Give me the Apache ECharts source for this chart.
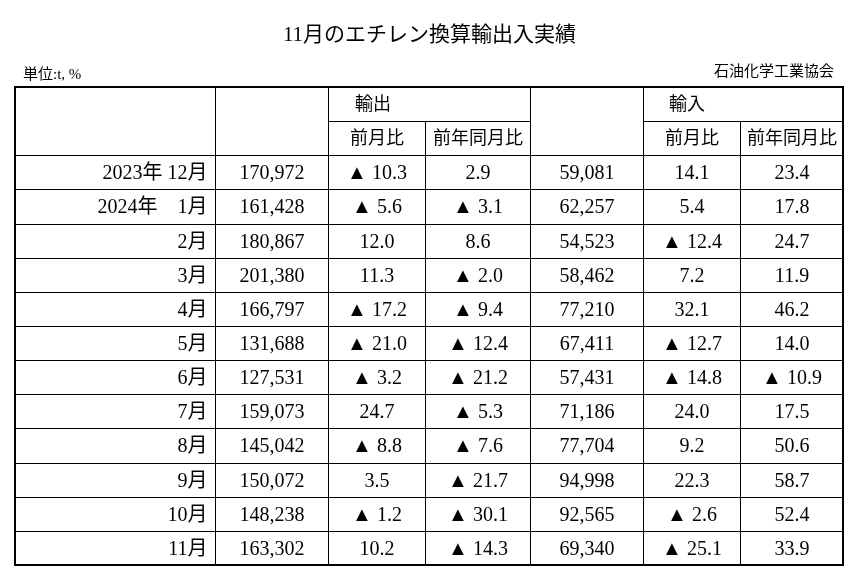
<!DOCTYPE html>
<html><head><meta charset="utf-8">
<script src="https://cdn.jsdelivr.net/npm/echarts@6/dist/echarts.min.js"></script>
<style>html,body{margin:0;background:#fff}#main{width:859px;height:579px}</style>
</head><body><div id="main"></div>
<script>
var rowLabels = ['2023年 12月', '2024年　1月', '2月', '3月', '4月', '5月', '6月', '7月', '8月', '9月', '10月', '11月'];
var exportQty = ['170,972', '161,428', '180,867', '201,380', '166,797', '131,688', '127,531', '159,073', '145,042', '150,072', '148,238', '163,302'];
var exportMoM = ['▲ 10.3', '▲ 5.6', '12.0', '11.3', '▲ 17.2', '▲ 21.0', '▲ 3.2', '24.7', '▲ 8.8', '3.5', '▲ 1.2', '10.2'];
var exportYoY = ['2.9', '▲ 3.1', '8.6', '▲ 2.0', '▲ 9.4', '▲ 12.4', '▲ 21.2', '▲ 5.3', '▲ 7.6', '▲ 21.7', '▲ 30.1', '▲ 14.3'];
var importQty = ['59,081', '62,257', '54,523', '58,462', '77,210', '67,411', '57,431', '71,186', '77,704', '94,998', '92,565', '69,340'];
var importMoM = ['14.1', '5.4', '▲ 12.4', '7.2', '32.1', '▲ 12.7', '▲ 14.8', '24.0', '9.2', '22.3', '▲ 2.6', '▲ 25.1'];
var importYoY = ['23.4', '17.8', '24.7', '11.9', '46.2', '14.0', '▲ 10.9', '17.5', '50.6', '58.7', '52.4', '33.9'];
// column edges in table units
var colEdges = [0, 200, 313, 410, 515, 628, 725, 828];

var font = '"Liberation Serif", "Noto Sans CJK JP", serif';
var cells = [];
function cell(c0, c1, r0, r1, text, align, noBottom) {
    cells.push([c0, c1, r0, r1, text, align || 'center', noBottom ? 1 : 0]);
}
// header
cell(0, 1, 0, 2, '');
cell(1, 4, 0, 1, '輸出', 'center', true);
cell(4, 7, 0, 1, '輸入', 'center', true);
cell(1, 2, 0, 2, '');
cell(2, 3, 1, 2, '前月比');
cell(3, 4, 1, 2, '前年同月比');
cell(4, 5, 0, 2, '');
cell(5, 6, 1, 2, '前月比');
cell(6, 7, 1, 2, '前年同月比');
var cols = [rowLabels, exportQty, exportMoM, exportYoY, importQty, importMoM, importYoY];
for (var i = 0; i < rowLabels.length; i++) {
    for (var j = 0; j < cols.length; j++) {
        cell(j, j + 1, i + 2, i + 3, cols[j][i], j === 0 ? 'right' : 'center');
    }
}

var myChart = echarts.init(document.getElementById('main'));
myChart.setOption({
    animation: false,
    title: [
        { text: '11月のエチレン換算輸出入実績', left: 'center', top: 20, textStyle: { fontSize: 21, fontWeight: 'normal', color: '#000', fontFamily: font } },
        { text: '単位:t, %', left: 18, top: 63, textStyle: { fontSize: 15, fontWeight: 'normal', color: '#000', fontFamily: font } },
        { text: '石油化学工業協会', right: 20, top: 60, textStyle: { fontSize: 15, fontWeight: 'normal', color: '#000', fontFamily: font } }
    ],
    grid: { left: 15, right: 16, top: 87, bottom: 14 },
    xAxis: { type: 'value', min: 0, max: 828, show: false },
    yAxis: { type: 'value', min: 0, max: 14, inverse: true, show: false },
    series: [{
        type: 'custom',
        data: cells,
        renderItem: function (params, api) {
            var c0 = colEdges[api.value(0)], c1 = colEdges[api.value(1)];
            var p0 = api.coord([c0, api.value(2)]);
            var p1 = api.coord([c1, api.value(3)]);
            var x0 = Math.round(p0[0]) + 0.5, y0 = Math.round(p0[1]) + 0.5;
            var x1 = Math.round(p1[0]) + 0.5, y1 = Math.round(p1[1]) + 0.5;
            var d = cells[params.dataIndex];
            var ls = { stroke: '#000', lineWidth: 1 };
            var children = [
                { type: 'line', shape: { x1: x1, y1: y0, x2: x1, y2: y1 }, style: ls },
                { type: 'line', shape: { x1: x0, y1: y0, x2: x0, y2: y1 }, style: ls },
                { type: 'line', shape: { x1: x0, y1: y0, x2: x1, y2: y0 }, style: ls }
            ];
            if (!d[6]) {
                children.push({ type: 'line', shape: { x1: x0, y1: y1, x2: x1, y2: y1 }, style: ls });
            }
            var right = d[5] === 'right';
            children.push({
                type: 'text',
                style: {
                    text: d[4], x: right ? x1 - 8 : (x0 + x1) / 2, y: (y0 + y1) / 2 + 1,
                    align: right ? 'right' : 'center', verticalAlign: 'middle',
                    font: (api.value(2) < 2 ? '18px ' : '20px ') + font, fill: '#000'
                }
            });
            return { type: 'group', children: children };
        }
    }, {
        // outer border thicker
        type: 'custom',
        data: [[0, 7, 0, 14]],
        renderItem: function (params, api) {
            var p0 = api.coord([colEdges[api.value(0)], api.value(2)]);
            var p1 = api.coord([colEdges[api.value(1)], api.value(3)]);
            return { type: 'rect', shape: { x: p0[0], y: p0[1], width: p1[0] - p0[0], height: p1[1] - p0[1] },
                style: { fill: 'none', stroke: '#000', lineWidth: 2 } };
        }
    }]
});
</script></body></html>
